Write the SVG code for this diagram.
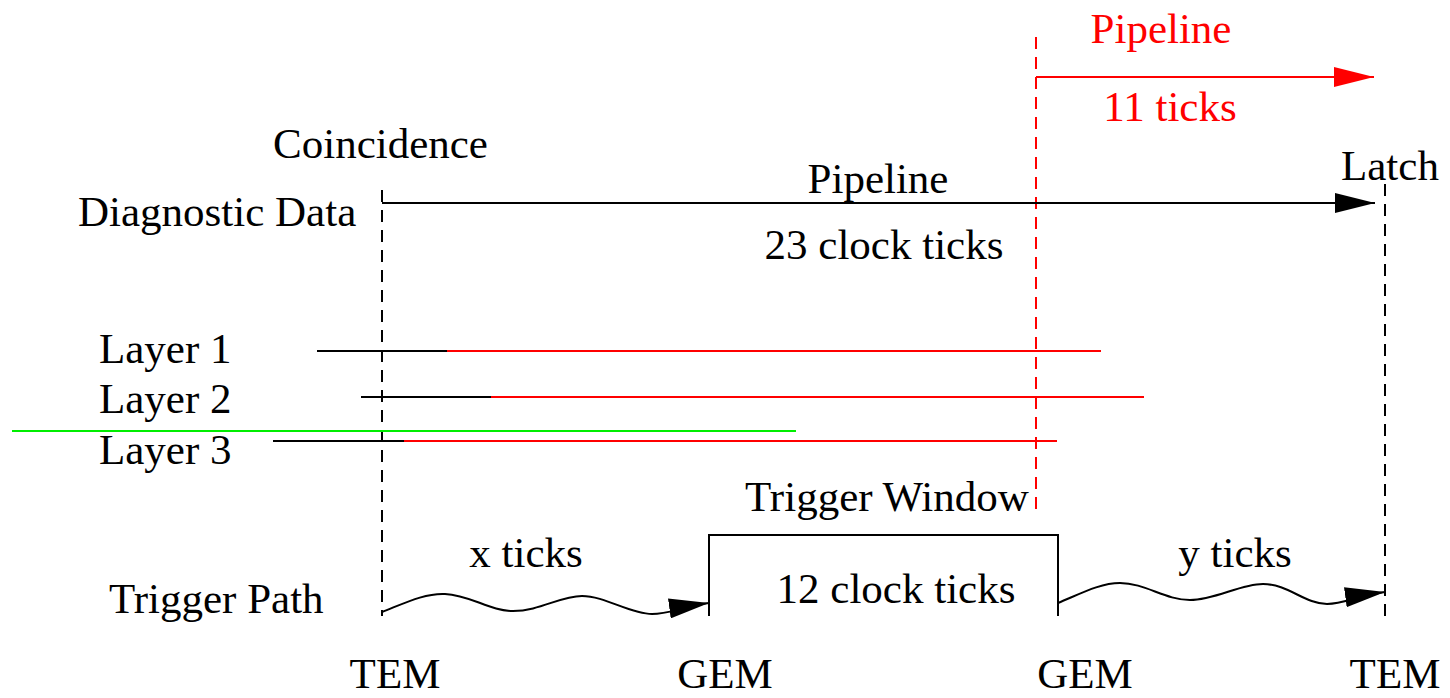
<svg xmlns="http://www.w3.org/2000/svg" width="1450" height="698" viewBox="0 0 1450 698">
<style>
text{font-family:"Liberation Serif","Times New Roman",serif;font-size:43px;fill:#000}
.r{fill:#f00}
.m{text-anchor:middle}
.k{stroke:#000;stroke-width:2;fill:none}
.rd{stroke:#f00;stroke-width:2;fill:none}
.d{stroke-dasharray:12 8}
</style>
<defs>
<marker id="ak" viewBox="0 0 40 20" refX="40" refY="10" markerWidth="40" markerHeight="20" markerUnits="userSpaceOnUse" orient="auto"><path d="M0,0 L40,10 L0,20 Z" fill="#000"/></marker>
<marker id="ar" viewBox="0 0 40 20" refX="40" refY="10" markerWidth="40" markerHeight="20" markerUnits="userSpaceOnUse" orient="auto"><path d="M0,0 L40,10 L0,20 Z" fill="#f00"/></marker>
</defs>
<g id="connectors">
<line class="k d" x1="382" y1="190" x2="382" y2="616"/>
<line class="k d" x1="1385" y1="184" x2="1385" y2="616"/>
<line class="rd d" x1="1036" y1="37" x2="1036" y2="512"/>
<line class="k" x1="382" y1="203" x2="1375" y2="203" marker-end="url(#ak)"/>
<line class="rd" x1="1036" y1="77" x2="1374" y2="77" marker-end="url(#ar)"/>
<line class="k" x1="317" y1="351" x2="447" y2="351"/>
<line class="rd" x1="447" y1="351" x2="1101" y2="351"/>
<line class="k" x1="361" y1="397" x2="491" y2="397"/>
<line class="rd" x1="491" y1="397" x2="1144" y2="397"/>
<line x1="12" y1="431" x2="796" y2="431" stroke="#0e0" stroke-width="2"/>
<line class="k" x1="273" y1="441" x2="404" y2="441"/>
<line class="rd" x1="404" y1="441" x2="1057" y2="441"/>
<path class="k" d="M382,612 C405,603 425,593 445,594 C470,595 490,611 513,611 C540,611 560,596 582,596 C605,596 630,614 652,614 C670,614 680,607 709,603" marker-end="url(#ak)"/>
<path class="k" d="M1058,603 C1080,594 1100,583 1120,583 C1145,583 1165,600 1190,600 C1215,600 1240,584 1263,584 C1288,584 1305,604 1327,604 C1345,604 1355,596 1385,592" marker-end="url(#ak)"/>
</g>
<g id="trigger-window">
<path class="k" d="M709,616 V535 H1058 V616"/>
<text x="887" y="511" class="m">Trigger Window</text>
<text x="896" y="603" class="m">12 clock ticks</text>
</g>
<g id="labels">
<text x="273" y="158">Coincidence</text>
<text x="78" y="226">Diagnostic Data</text>
<text x="878" y="193" class="m">Pipeline</text>
<text x="884" y="259" class="m">23 clock ticks</text>
<text x="1341" y="180">Latch</text>
<text x="1161" y="43" class="r m">Pipeline</text>
<text x="1170" y="121" class="r m">11 ticks</text>
<text x="99" y="363">Layer 1</text>
<text x="99" y="413">Layer 2</text>
<text x="99" y="464">Layer 3</text>
<text x="526" y="567" class="m">x ticks</text>
<text x="1235" y="567" class="m">y ticks</text>
<text x="109" y="613">Trigger Path</text>
<text x="395" y="688" class="m">TEM</text>
<text x="725" y="688" class="m">GEM</text>
<text x="1085" y="688" class="m">GEM</text>
<text x="1395" y="688" class="m">TEM</text>
</g>
</svg>
